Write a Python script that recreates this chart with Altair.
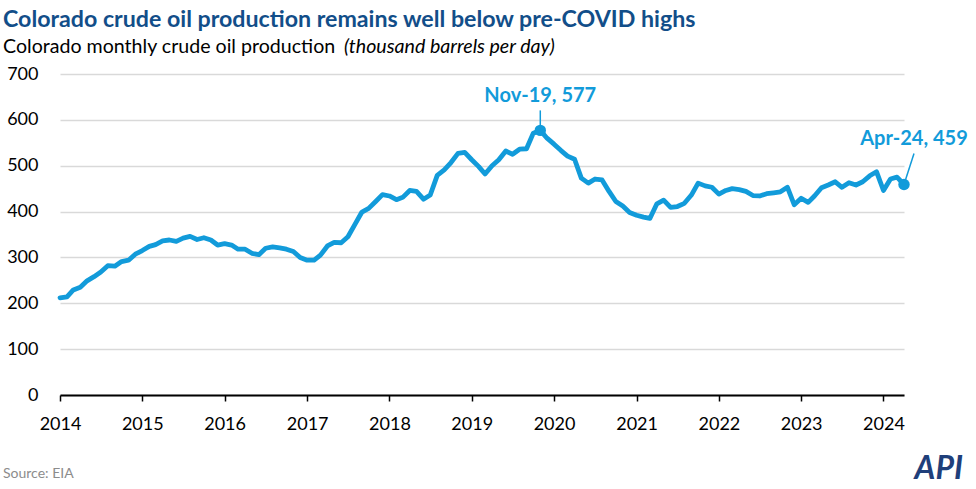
import altair as alt
import pandas as pd

# ---------------- data ----------------
start_year = 2014
production = [
    212, 214, 229, 235, 249, 258, 268, 282, 281, 291, 294, 307,   # 2014
    315, 324, 328, 336, 338, 335, 342, 346, 339, 343, 338, 327,   # 2015
    330, 327, 318, 318, 309, 306, 320, 323, 321, 318, 313, 300,   # 2016
    294, 294, 305, 325, 333, 332, 345, 372, 399, 407, 422, 437,   # 2017
    434, 426, 431, 446, 444, 427, 436, 479, 491, 507, 527, 529,   # 2018
    513, 498, 482, 500, 513, 532, 525, 536, 537, 571, 577, 560,   # 2019
    547, 533, 521, 514, 473, 462, 471, 469, 444, 422, 412, 398,   # 2020
    392, 388, 385, 417, 425, 409, 411, 418, 436, 462, 456, 453,   # 2021
    438, 446, 450, 448, 444, 435, 434, 439, 441, 443, 453, 415,   # 2022
    429, 420, 434, 452, 458, 465, 453, 463, 458, 465, 478, 487,   # 2023
    446, 471, 475, 459,                                           # 2024
]
months = [f"{start_year + i // 12}/{i % 12 + 1:02d}/01" for i in range(len(production))]
year_ticks = list(range(2014, 2025))

ann_dates = ["2019/11/01", "2024/04/01"]
ann_values = [577, 459]
ann_labels = ["Nov-19, 577", "Apr-24, 459"]

title_text = "Colorado crude oil production remains well below pre-COVID highs"
subtitle_text = "Colorado monthly crude oil production"
subtitle_italic = "(thousand barrels per day)"
source_text = "Source: EIA"

# ---------------- styling ----------------
BLUE = "#129BDA"
NAVY = "#124E89"
FONT = "Lato"

df = pd.DataFrame({"date": months, "value": production})
ann = pd.DataFrame({"date": ann_dates, "value": ann_values, "label": ann_labels})

x_scale = alt.Scale(domain=[alt.DateTime(year=2014, month=1, date=1),
                            alt.DateTime(year=2024, month=4, date=1)])
y_scale = alt.Scale(domain=[0, 700], nice=False)

x_axis = alt.Axis(
    values=[alt.DateTime(year=y, month=1, date=1) for y in year_ticks],
    format="%Y", title=None, grid=False,
    domainColor="black", domainWidth=2, tickColor="black", tickSize=6, tickWidth=1.5,
    labelFontSize=18, labelColor="black", labelFont=FONT, labelPadding=14,
    labelFlush=False, labelOverlap=False,
)
y_axis = alt.Axis(
    values=list(range(0, 701, 100)), title=None, domain=False, ticks=False,
    grid=True, gridColor="#D9D9D9", gridWidth=1.5,
    labelFontSize=18, labelColor="black", labelFont=FONT, labelPadding=22,
)

line = alt.Chart(df).mark_line(
    color=BLUE, strokeWidth=4.8, strokeJoin="round", strokeCap="round"
).encode(
    x=alt.X("date:T", scale=x_scale, axis=x_axis),
    y=alt.Y("value:Q", scale=y_scale, axis=y_axis),
)

pts = alt.Chart(ann).mark_point(filled=True, size=130, color=BLUE, opacity=1).encode(
    x="date:T", y="value:Q"
)

ann1 = ann.iloc[[0]]
ann2 = ann.iloc[[1]]

rule1 = alt.Chart(ann1).mark_rule(color=BLUE, strokeWidth=1.5, y2Offset=-20).encode(
    x="date:T", y="value:Q", x2="date:T", y2="value:Q"
)
rule2 = alt.Chart(ann2).mark_rule(color=BLUE, strokeWidth=1.5, x2Offset=10, y2Offset=-31).encode(
    x="date:T", y="value:Q", x2="date:T", y2="value:Q"
)
lab1 = alt.Chart(ann1).mark_text(
    color=BLUE, font=FONT, fontWeight="bold", fontSize=20, dy=-28, baseline="alphabetic"
).encode(x="date:T", y="value:Q", text="label:N")
lab2 = alt.Chart(ann2).mark_text(
    color=BLUE, font=FONT, fontWeight="bold", fontSize=20, dx=10, dy=-40, baseline="alphabetic"
).encode(x="date:T", y="value:Q", text="label:N")

def txt(s, x, y, align="left", **kw):
    return alt.Chart(pd.DataFrame({"t": [s]})).mark_text(
        align=align, baseline="alphabetic", font=FONT, **kw
    ).encode(x=alt.value(x), y=alt.value(y), text="t:N")

title = txt(title_text, -57, -47, fontSize=23.2, fontWeight="bold", color=NAVY)
sub1 = txt(subtitle_text, -57, -21, fontSize=19.6, color="black")
sub2 = txt(subtitle_italic, 284, -21, fontSize=19.6, fontStyle="italic", color="black")
source = txt(source_text, -57, 404, fontSize=14, color="#8C8C8C")
logo = txt("API", 903, 405, align="right", fontSize=32, fontWeight="bold",
           fontStyle="italic", color="#1F3F7A")

chart = alt.layer(
    line, rule1, rule2, pts, lab1, lab2, title, sub1, sub2, source, logo
).properties(
    width=844, height=321,
    background="white",
    autosize=alt.AutoSizeParams(type="none"),
    padding={"left": 60, "top": 74, "right": 72, "bottom": 94},
).configure_view(strokeWidth=0, strokeOpacity=0)

chart.save("out.html", embed_options={"renderer": "svg", "actions": False})
